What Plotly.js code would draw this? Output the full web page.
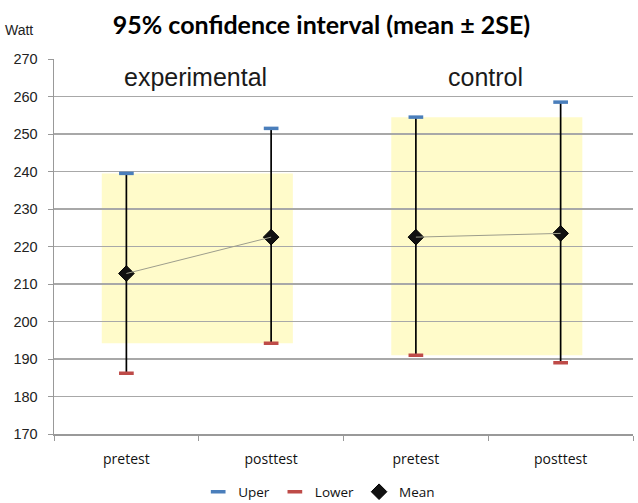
<!DOCTYPE html>
<html>
<head>
<meta charset="utf-8">
<script src="https://cdn.plot.ly/plotly-3.0.1.min.js"></script>
<style>html,body{margin:0;padding:0;background:#fff;}#chart{width:638px;height:503px;}</style>
</head>
<body>
<div id="chart"></div>
<script>
// ---- data ----
var tickLabels = ["pretest", "posttest", "pretest", "posttest"];
var groups = ["experimental", "control"];
var groupOf = [0, 0, 1, 1];
var upper = [239.5, 251.5, 254.5, 258.5];
var lower = [186.2, 194.2, 191.0, 189.0];
var mean = [212.8, 222.5, 222.5, 223.5];
var yTicks = [170, 180, 190, 200, 210, 220, 230, 240, 250, 260, 270];

// ---- build ----
var idx = tickLabels.map(function (_, i) { return i; });
var lineX = [], lineY = [];
idx.forEach(function (i) {
  if (i > 0 && groupOf[i] !== groupOf[i - 1]) { lineX.push(null); lineY.push(null); }
  lineX.push(i); lineY.push(mean[i]);
});

var shapes = [];
var annotations = [];
groups.forEach(function (g, gi) {
  var members = idx.filter(function (i) { return groupOf[i] === gi; });
  var top = Math.min.apply(null, members.map(function (i) { return upper[i]; }));
  var bot = Math.max.apply(null, members.map(function (i) { return lower[i]; }));
  var x0 = Math.min.apply(null, members), x1 = Math.max.apply(null, members);
  shapes.push({
    type: "rect", xref: "x", yref: "y", layer: "below",
    x0: x0 - 0.17, x1: x1 + 0.15, y0: bot, y1: top,
    fillcolor: "#FFFBCA", line: { width: 0 }
  });
  annotations.push({
    xref: "x", yref: "y", x: (x0 + x1) / 2 - 0.02, y: 265.2, text: g, showarrow: false,
    font: { family: "Liberation Sans, Arial", size: 25, color: "#1a1a1a" },
    xanchor: "center", yanchor: "middle"
  });
});
annotations.push({
  xref: "paper", yref: "paper", x: -0.088, y: 1.077, text: "Watt", showarrow: false,
  xanchor: "left", yanchor: "middle",
  font: { family: "Liberation Sans, Arial", size: 14, color: "#222" }
});

var traces = [
  { // error bars
    x: idx, y: mean, mode: "markers", type: "scatter", showlegend: false, hoverinfo: "skip",
    marker: { size: 1, color: "rgba(0,0,0,0)" },
    error_y: {
      type: "data", symmetric: false,
      array: idx.map(function (i) { return upper[i] - mean[i]; }),
      arrayminus: idx.map(function (i) { return mean[i] - lower[i]; }),
      width: 0, thickness: 1.7, color: "#000"
    }
  },
  { // connecting line
    x: lineX, y: lineY, xaxis: "x2", mode: "lines", type: "scatter", showlegend: false,
    connectgaps: false, line: { color: "#9d9d8c", width: 1 }, hoverinfo: "skip"
  },
  {
    name: "Uper", x: idx, y: upper, mode: "markers", type: "scatter",
    marker: { symbol: "line-ew", size: 10.5, color: "#4A7EBB", line: { color: "#4A7EBB", width: 3.5 } }
  },
  {
    name: "Lower", x: idx, y: lower, mode: "markers", type: "scatter",
    marker: { symbol: "line-ew", size: 10.5, color: "#BE4B48", line: { color: "#BE4B48", width: 3.5 } }
  },
  {
    name: "Mean", x: idx, y: mean, mode: "markers", type: "scatter",
    marker: { symbol: "diamond", size: 12, color: "#111", line: { color: "#000", width: 1 } }
  }
];

var boundaries = [];
for (var b = 0; b <= tickLabels.length; b++) boundaries.push(b - 0.5);

var layout = {
  width: 638, height: 503,
  margin: { l: 54, r: 5, t: 59, b: 69, autoexpand: false },
  paper_bgcolor: "#fff", plot_bgcolor: "#fff",
  title: {
    text: "95% confidence interval (mean ± 2SE)",
    font: { family: "Lato", size: 25, color: "#000", weight: "bold" },
    xref: "paper", x: 0.462, xanchor: "center",
    yref: "container", y: 0.95, yanchor: "middle"
  },
  xaxis: {
    range: [-0.5, tickLabels.length - 0.5], tickmode: "array",
    tickvals: boundaries, ticktext: boundaries.map(function () { return ""; }),
    ticks: "outside", ticklen: 5, tickcolor: "#999", tickwidth: 1,
    showline: true, linecolor: "#999", linewidth: 1.5, showgrid: false, zeroline: false, fixedrange: true
  },
  xaxis2: {
    overlaying: "x", side: "bottom", anchor: "y",
    range: [-0.5, tickLabels.length - 0.5], tickmode: "array",
    tickvals: idx, ticktext: tickLabels, ticks: "", ticklabelstandoff: 15,
    showline: false, showgrid: false, zeroline: false,
    tickfont: { family: "Open Sans", size: 14, color: "#111" }
  },
  yaxis: {
    range: [170, 270], tickmode: "array", tickvals: yTicks,
    ticks: "outside", ticklen: 5, tickcolor: "#999", ticklabelstandoff: 7,
    showline: true, linecolor: "#999", linewidth: 1.5,
    showgrid: true, gridcolor: "#a8a8a8", gridwidth: 1.3, zeroline: false,
    tickfont: { family: "Liberation Sans, Arial", size: 14.5, color: "#222" }
  },
  legend: {
    orientation: "h", xref: "paper", x: 0.458, xanchor: "center",
    yref: "container", y: 0.022, yanchor: "middle",
    font: { family: "Open Sans", size: 13.5, color: "#111" },
    itemwidth: 30, tracegroupgap: 0
  },
  shapes: shapes,
  annotations: annotations
};

Plotly.newPlot("chart", traces, layout, { displayModeBar: false, staticPlot: true });
</script>
</body>
</html>
